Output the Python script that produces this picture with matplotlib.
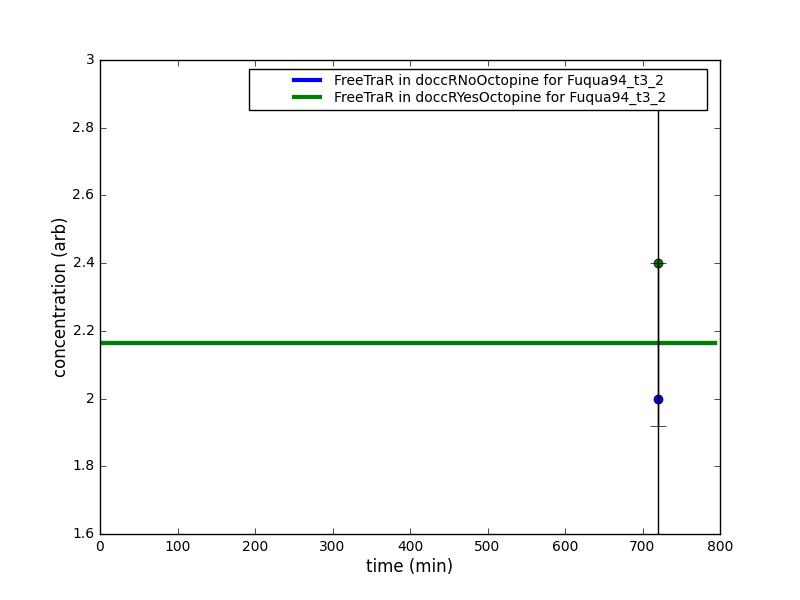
import matplotlib
matplotlib.use("Agg")
import matplotlib.pyplot as plt
from matplotlib.patches import Rectangle

plt.style.use('classic')

sim_time = [0, 794]
sim_no = [2.163, 2.163]
sim_yes = [2.163, 2.163]

exp_time = [720]
exp_no = [2.0]
exp_no_err = [0.4]
exp_yes = [2.4]
exp_yes_err = [0.48]

labels = ["FreeTraR in doccRNoOctopine for Fuqua94_t3_2",
          "FreeTraR in doccRYesOctopine for Fuqua94_t3_2"]

fig = plt.figure(figsize=(8, 6), dpi=100, facecolor='white')
ax = fig.add_subplot(111)
fig.subplots_adjust(left=0.125, right=0.9, bottom=0.11, top=0.9)

l1, = ax.plot(sim_time, sim_no, color='blue', lw=3, label=labels[0], zorder=2)
l2, = ax.plot(sim_time, sim_yes, color='green', lw=3, label=labels[1], zorder=2)
ax.plot(exp_time, exp_no, 'o', color='blue', mec='black', ms=6.5, zorder=3)
ax.plot(exp_time, exp_yes, 'o', color='green', mec='black', ms=6.5, zorder=3)
ax.errorbar(exp_time, exp_no, yerr=exp_no_err, fmt='none',
            ecolor='black', capsize=6, elinewidth=1, zorder=4)
ax.errorbar(exp_time, exp_yes, yerr=exp_yes_err, fmt='none',
            ecolor='black', capsize=6, elinewidth=1, zorder=4)

ax.set_xlim(0, 800)
ax.set_ylim(1.6, 3.0)
ax.set_yticks([1.6, 1.8, 2.0, 2.2, 2.4, 2.6, 2.8, 3.0])
ax.set_yticklabels(['1.6', '1.8', '2', '2.2', '2.4', '2.6', '2.8', '3'])
ax.set_xlabel('time (min)', fontsize=12, labelpad=3)
ax.set_ylabel('concentration (arb)', fontsize=12, labelpad=2)
ax.tick_params(labelsize=10)

# legend frame (figure pixel geometry -> figure fraction)
W, H = 800.0, 600.0
fx0, fx1 = 249 / W, 707 / W
fy0, fy1 = 1 - 110 / H, 1 - 69 / H
frame = Rectangle((fx0, fy0), fx1 - fx0, fy1 - fy0, transform=fig.transFigure,
                  facecolor='white', edgecolor='black', lw=1, zorder=20)
fig.patches.append(frame)
leg = fig.legend(loc='center', bbox_to_anchor=((fx0 + fx1) / 2, (fy0 + fy1) / 2),
                 fontsize=10, frameon=False, handlelength=2.5,
                 handletextpad=0.7, labelspacing=0.25, borderpad=0.0,
                 handles=[l1, l2], labels=labels)
leg.set_zorder(30)

fig.savefig('out.png', dpi=100, facecolor='white')
